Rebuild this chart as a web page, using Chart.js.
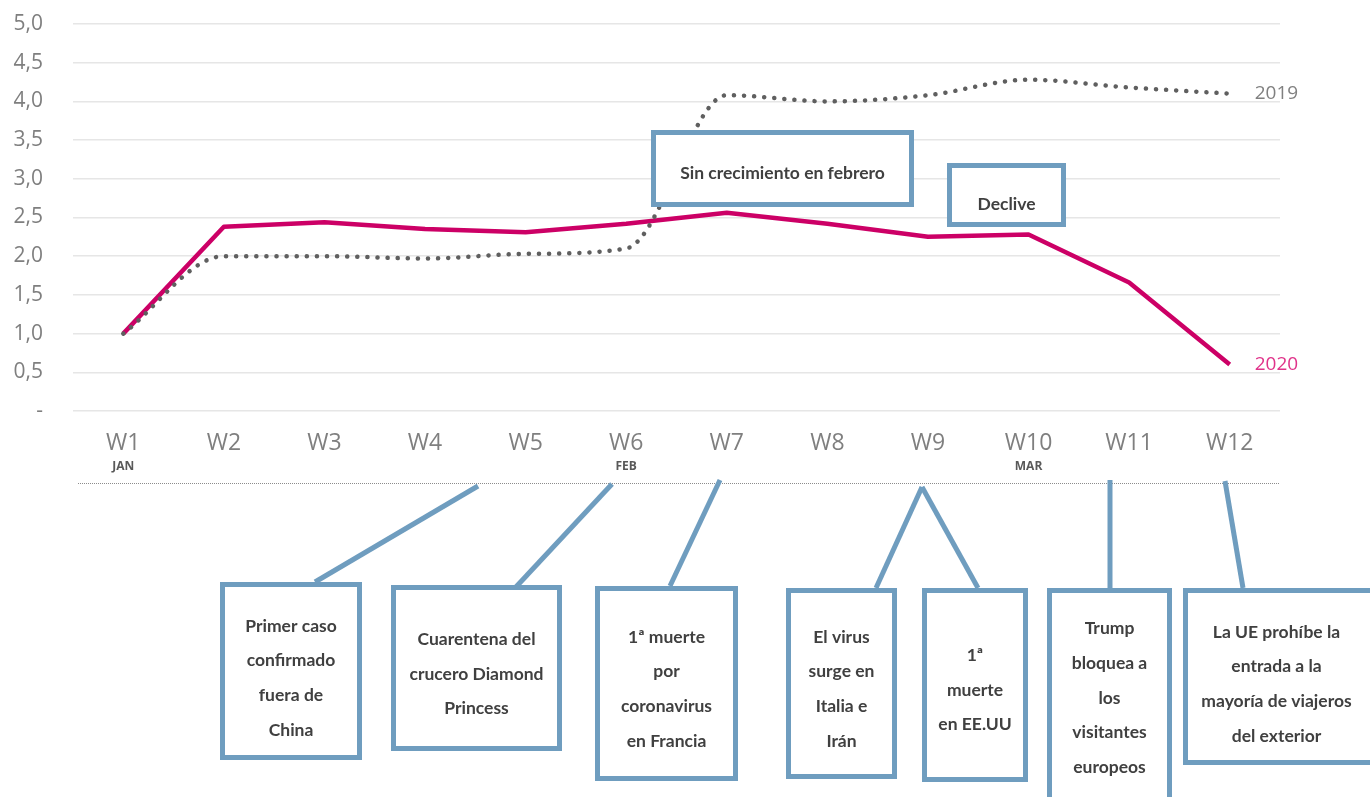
<!DOCTYPE html>
<html><head><meta charset="utf-8">
<script src="https://cdn.jsdelivr.net/npm/chart.js@4.4.1/dist/chart.umd.min.js"></script>
<style>html,body{margin:0;padding:0;background:#fff;}#wrap{width:1370px;height:797px;position:relative}canvas{display:block}</style>
</head><body><div id="wrap"><canvas id="c" width="1370" height="797"></canvas></div>
<script>
// ---- data ----
const categories = ['W1','W2','W3','W4','W5','W6','W7','W8','W9','W10','W11','W12'];
const months = ['JAN','','','','','FEB','','','','MAR','',''];
const values2019 = [1.0, 2.0, 2.0, 1.97, 2.03, 2.1, 4.08, 4.0, 4.08, 4.28, 4.18, 4.1];
const values2020 = [1.0, 2.38, 2.44, 2.35, 2.31, 2.42, 2.56, 2.42, 2.25, 2.28, 1.66, 0.6];
const yTickValues = [0, 0.5, 1, 1.5, 2, 2.5, 3, 3.5, 4, 4.5, 5];
const seriesNames = ['2019', '2020'];

// annotation texts
const topNotes = [
  {lines:['Sin crecimiento en febrero']},
  {lines:['Declive']}
];
const bottomNotes = [
  {lines:['Primer caso','confirmado','fuera de','China']},
  {lines:['Cuarentena del','crucero Diamond','Princess']},
  {lines:['1ª muerte','por','coronavirus','en Francia']},
  {lines:['El virus','surge en','Italia e','Irán']},
  {lines:['1ª','muerte','en EE.UU']},
  {lines:['Trump','bloquea a','los','visitantes','europeos']},
  {lines:['La UE prohíbe la','entrada a la','mayoría de viajeros','del exterior']}
];
// layout of annotations (pixels): box [x1,y1,x2,y2], connector from/to, text centre y
const topLayout = [
  {box:[651,130,914,207], ty:173},
  {box:[947,163,1066,227], ty:204}
];
const bottomLayout = [
  {box:[220,582,362,760], from:[478,486], to:[315,582], ty:678},
  {box:[391,585,562,751], from:[612,484], to:[515,588], ty:674},
  {box:[595,586,738,781], from:[720,480], to:[670,586], ty:689},
  {box:[786,588,897,779], from:[922,487], to:[876,588], ty:689},
  {box:[922,588,1028,782], from:[922,487], to:[978,588], ty:690},
  {box:[1047,588,1172,812], from:[1110,480], to:[1110,588], ty:698},
  {box:[1183,588,1380,765], from:[1225,481], to:[1243,588], ty:684}
];

const AX_FONT = "'Open Sans', 'DejaVu Sans', sans-serif";
const NOTE_FONT = "Lato, 'Open Sans', sans-serif";
const BOX_COLOR = '#6f9dbf';

function drawBox(ctx, b, fill){
  const lw = 5;
  ctx.save();
  if (fill){ ctx.fillStyle = '#fff'; ctx.fillRect(b[0], b[1], b[2]-b[0], b[3]-b[1]); }
  ctx.strokeStyle = BOX_COLOR; ctx.lineWidth = lw;
  ctx.strokeRect(b[0]+lw/2, b[1]+lw/2, b[2]-b[0]-lw, b[3]-b[1]-lw);
  ctx.restore();
}
function drawText(ctx, lines, cx, cy, lh){
  ctx.save();
  ctx.fillStyle = '#404040';
  ctx.font = "bold 17.5px " + NOTE_FONT;
  ctx.textAlign = 'center'; ctx.textBaseline = 'middle';
  const y0 = cy - (lines.length-1)*lh/2;
  lines.forEach((t,i)=>ctx.fillText(t, cx, y0 + i*lh));
  ctx.restore();
}

const overlay = {
  id:'overlay',
  afterDatasetsDraw(chart){
    const ctx = chart.ctx;
    const xs = chart.scales.x;
    // series end labels
    const labelColors = ['#808080', '#e0338a'];
    chart.data.datasets.forEach((ds, i)=>{
      const meta = chart.getDatasetMeta(i);
      const p = meta.data[meta.data.length-1];
      ctx.save();
      ctx.font = "19px " + AX_FONT;
      ctx.fillStyle = labelColors[i];
      ctx.textAlign = 'left'; ctx.textBaseline = 'middle';
      ctx.fillText(seriesNames[i], p.x + 25, p.y);
      ctx.restore();
    });
    // month labels
    ctx.save();
    ctx.font = "bold 12px " + AX_FONT;
    ctx.fillStyle = '#595959';
    ctx.textAlign = 'center'; ctx.textBaseline = 'middle';
    months.forEach((m,i)=>{ if(m) ctx.fillText(m, xs.getPixelForValue(i), 467); });
    ctx.restore();
    // separator dotted line
    ctx.save();
    ctx.strokeStyle = '#8c8c8c'; ctx.lineWidth = 1; ctx.setLineDash([1,1]);
    ctx.beginPath(); ctx.moveTo(78, 483.5); ctx.lineTo(1280, 483.5); ctx.stroke();
    ctx.restore();
    // top boxes
    topNotes.forEach((n,i)=>{
      const L = topLayout[i];
      drawBox(ctx, L.box, true);
      drawText(ctx, n.lines, (L.box[0]+L.box[2])/2, L.ty, 35);
    });
    // bottom connectors and boxes
    bottomNotes.forEach((n,i)=>{
      const L = bottomLayout[i];
      ctx.save();
      ctx.strokeStyle = BOX_COLOR; ctx.lineWidth = 5;
      ctx.beginPath(); ctx.moveTo(L.from[0], L.from[1]); ctx.lineTo(L.to[0], L.to[1]); ctx.stroke();
      ctx.restore();
      drawBox(ctx, L.box, true);
      drawText(ctx, n.lines, (L.box[0]+Math.min(L.box[2],1370))/2, L.ty, 34.7);
    });
  }
};

new Chart(document.getElementById('c'), {
  type:'line',
  data:{
    labels: categories,
    datasets:[
      {label: seriesNames[0], data: values2019, borderColor:'#5f5f5f', borderWidth:4.5,
       borderDash:[0.1,10], borderCapStyle:'round', cubicInterpolationMode:'monotone', pointRadius:0, fill:false},
      {label: seriesNames[1], data: values2020, borderColor:'#cc0066', borderWidth:4.5,
       tension:0, pointRadius:0, fill:false, borderJoinStyle:'round'}
    ]
  },
  options:{
    responsive:false, animation:false, devicePixelRatio:1,
    layout:{padding:{left:0, right:90, top:24, bottom:336}},
    plugins:{legend:{display:false}, tooltip:{enabled:false}},
    scales:{
      x:{
        offset:true,
        grid:{display:false, drawTicks:false},
        border:{display:false},
        ticks:{font:{family:AX_FONT, size:23}, color:'#7f7f7f', padding:19, maxRotation:0, autoSkip:false},
        afterFit(s){ s.height = 50; s.paddingLeft = 0; s.paddingRight = 0; }
      },
      y:{
        min:0, max:5,
        afterBuildTicks(s){ s.ticks = yTickValues.map(v=>({value:v})); },
        grid:{color:'#e6e6e6', lineWidth:1.5, drawTicks:false},
        border:{display:false},
        ticks:{font:{family:AX_FONT, size:21}, color:'#7f7f7f', padding:30,
          callback(v){ return v===0 ? '-' : v.toFixed(1).replace('.', ','); }},
        afterFit(s){ s.width = 73; s.paddingTop = 0; s.paddingBottom = 0; }
      }
    }
  },
  plugins:[overlay]
});
</script>
</body></html>
